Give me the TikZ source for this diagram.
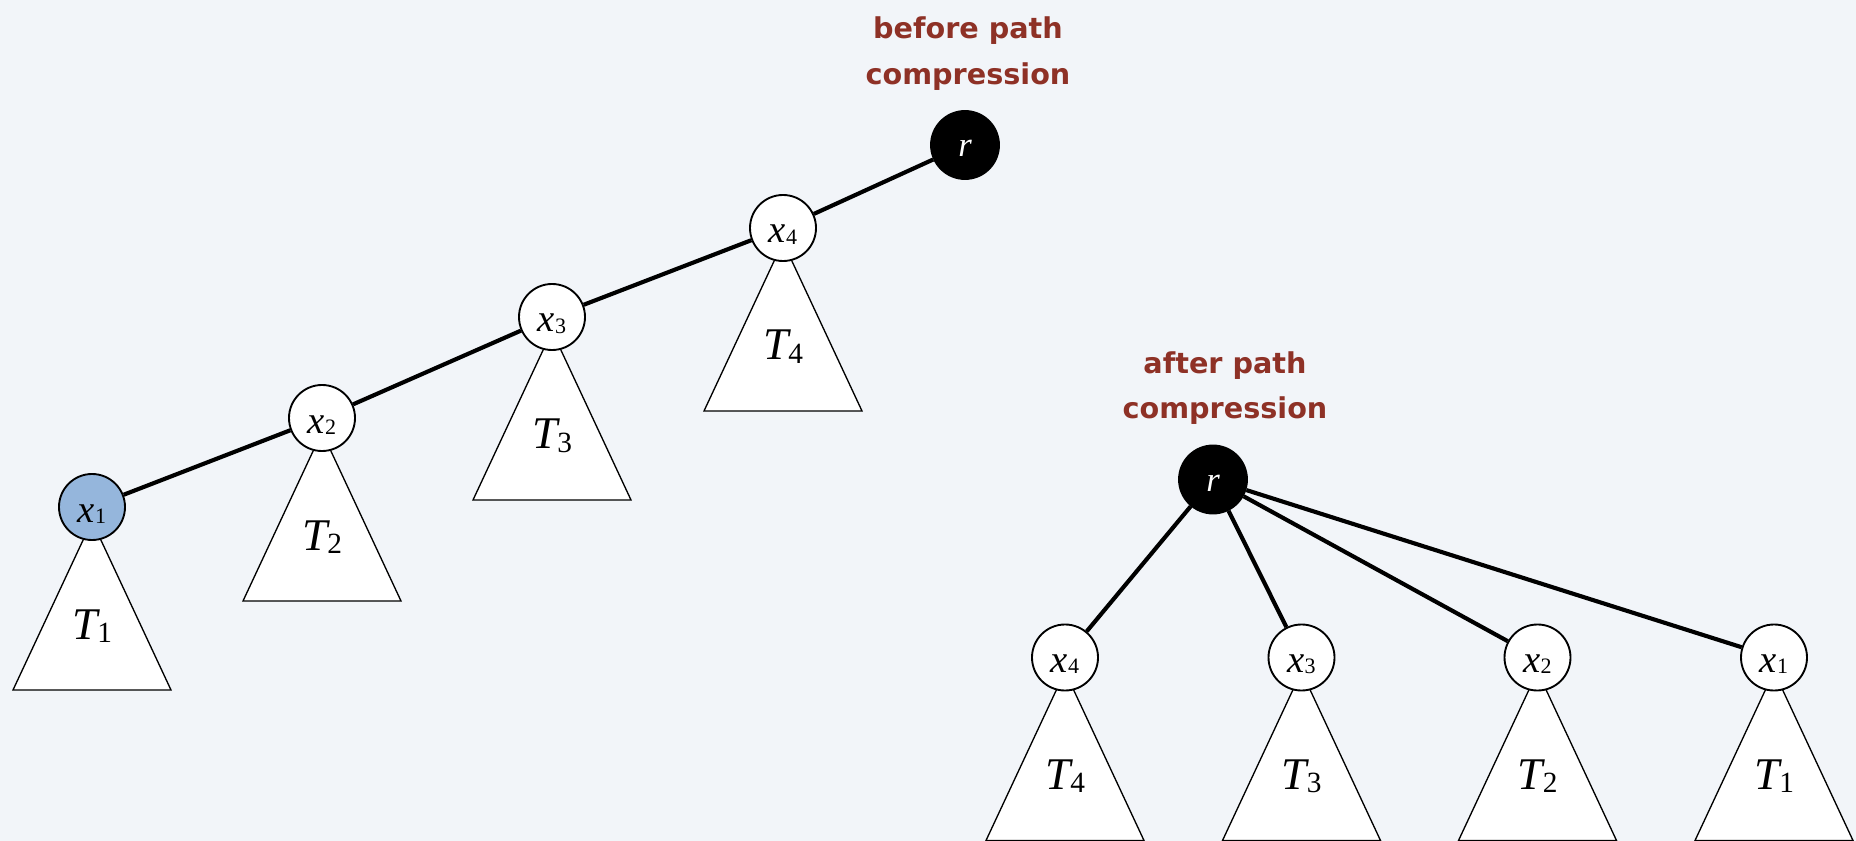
\documentclass[tikz,border=0pt]{standalone}
\usepackage{fontspec}
\newfontfamily\tmsfont{Liberation Serif}
\newfontfamily\lblfont{DejaVu Sans}
\usetikzlibrary{calc}
\definecolor{bgc}{HTML}{F2F5F9}
\definecolor{lblc}{HTML}{8E3126}
\definecolor{bluec}{HTML}{95B6DC}
\newcommand{\nodelab}[2]{{\tmsfont\fontsize{29}{29}\selectfont\itshape #1}{\tmsfont\fontsize{16.5}{16.5}\selectfont\raisebox{-1pt}{#2}}}
\newcommand{\treelab}[1]{{\tmsfont\fontsize{34}{34}\selectfont\itshape T}{\tmsfont\fontsize{22}{22}\selectfont\raisebox{-2.5pt}{#1}}}
\begin{document}
\begin{tikzpicture}[x=0.75pt,y=-0.75pt,
  circ/.style={circle, draw, line width=1.4pt, fill=white, minimum size=49.5pt, inner sep=0pt, text height=22.5pt, text depth=0pt},
  rootc/.style={circ, fill=black, text=white, minimum size=51pt, text height=18pt, font=\tmsfont\itshape\fontsize{26}{26}\selectfont},
  edge/.style={line width=3.1pt},
  tri/.style={draw, line width=1pt, fill=white, line join=miter},
  tlab/.style={anchor=base, inner sep=0pt},
  lbl/.style={text=lblc, font=\lblfont\bfseries\fontsize{21.5}{34.3}\selectfont, align=center, anchor=north, inner sep=0pt}]
\path[fill=bgc] (0,0) rectangle (1856,841);
\useasboundingbox (0,0) rectangle (1856,841);
% positions
\coordinate (p1) at (92,507);
\coordinate (p2) at (322,418);
\coordinate (p3) at (552,317);
\coordinate (p4) at (783,228);
\coordinate (pr) at (965,145);
\coordinate (qr) at (1213,479.5);
\coordinate (q4) at (1065,657.5);
\coordinate (q3) at (1301.5,657.5);
\coordinate (q2) at (1537.5,657.5);
\coordinate (q1) at (1774,657.5);
% subtrees
\foreach \p/\i in {p1/1,p2/2,p3/3,p4/4,q1/1,q2/2,q3/3,q4/4}{
  \draw[tri] ($(\p)+(0,14)$) -- ++(-79,169) -- ++(158,0) -- cycle;
  \node[tlab] (t\p) at ($(\p)+(0,132)$) {\treelab{\i}};
}
% nodes
\node[circ, fill=bluec] (x1) at (p1) {\nodelab{x}{1}};
\node[circ] (x2) at (p2) {\nodelab{x}{2}};
\node[circ] (x3) at (p3) {\nodelab{x}{3}};
\node[circ] (x4) at (p4) {\nodelab{x}{4}};
\node[rootc] (r) at (pr) {r};
\node[rootc] (rr) at (qr) {r};
\node[circ] (y4) at (q4) {\nodelab{x}{4}};
\node[circ] (y3) at (q3) {\nodelab{x}{3}};
\node[circ] (y2) at (q2) {\nodelab{x}{2}};
\node[circ] (y1) at (q1) {\nodelab{x}{1}};
% connectors
\draw[edge] (x1) -- (x2);
\draw[edge] (x2) -- (x3);
\draw[edge] (x3) -- (x4);
\draw[edge] (x4) -- (r);
\draw[edge] (rr) -- (y4);
\draw[edge] (rr) -- (y3);
\draw[edge] (rr) -- (y2);
\draw[edge] (rr) -- (y1);
% labels
\node[lbl] (before) at (968,16.7) {before path\\compression};
\node[lbl] (after) at (1225,351) {after path\\compression};
\end{tikzpicture}
\end{document}
